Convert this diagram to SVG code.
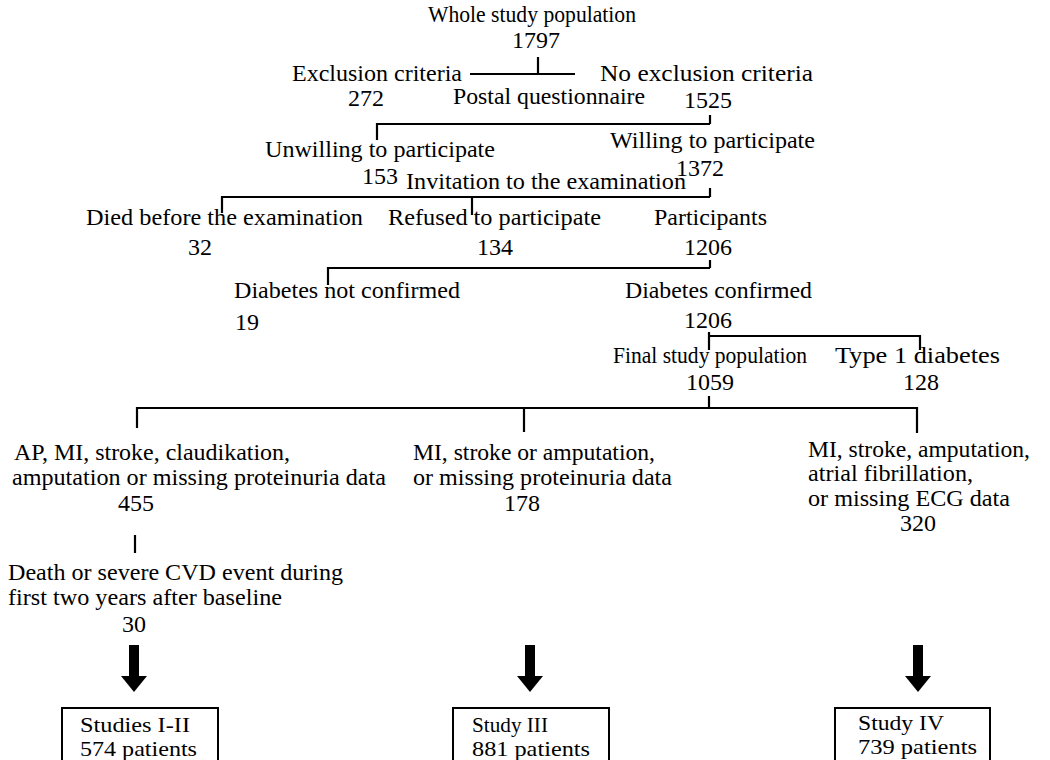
<svg xmlns="http://www.w3.org/2000/svg" width="1050" height="760" viewBox="0 0 1050 760">
<style>
text{font-family:"Liberation Serif","Times New Roman",serif;font-size:24px;fill:#000}
.c{text-anchor:middle}
.b{font-size:21px}
.ln{stroke:#000;stroke-width:2.2;fill:none}
.box{stroke:#000;stroke-width:2;fill:#fff}
.arr{fill:#000}
</style>
<rect width="1050" height="760" fill="#fff"/>
<g id="connectors">
<path class="ln" d="M538 57V74M470 74H575"/>
<path class="ln" d="M377 140V124H710M710 115V124"/>
<path class="ln" d="M222 213V197H710M472 197V215M710 188V197"/>
<path class="ln" d="M328 285V268H710M710 260V268"/>
<path class="ln" d="M709 332V350M709 336H920V350"/>
<path class="ln" d="M709 396V408M137 428V408H917V433M524 408V432"/>
<path class="ln" d="M135 535V553"/>
<path class="arr" d="M129 645H139V676H147L134 692L121 676H129Z"/>
<path class="arr" d="M525 645H535V676H543L530 692L517 676H525Z"/>
<path class="arr" d="M913 645H923V676H931L918 692L905 676H913Z"/>
</g>
<g id="n-whole"><text class="c" x="532" y="22" textLength="208" lengthAdjust="spacingAndGlyphs">Whole study population</text><text class="c" x="536" y="48">1797</text></g>
<g id="n-excl"><text x="292" y="81" textLength="170" lengthAdjust="spacingAndGlyphs">Exclusion criteria</text><text class="c" x="366" y="106">272</text></g>
<g id="n-noexcl"><text x="600" y="81" textLength="213" lengthAdjust="spacingAndGlyphs">No exclusion criteria</text><text class="c" x="708" y="108">1525</text></g>
<g id="n-postal"><text x="453" y="104" textLength="192" lengthAdjust="spacingAndGlyphs">Postal questionnaire</text></g>
<g id="n-unwilling"><text x="265" y="157" textLength="230" lengthAdjust="spacingAndGlyphs">Unwilling to participate</text><text class="c" x="380" y="184">153</text></g>
<g id="n-willing"><text x="610" y="148" textLength="205" lengthAdjust="spacingAndGlyphs">Willing to participate</text><text class="c" x="700" y="176">1372</text></g>
<g id="n-invitation"><text x="406" y="189" textLength="280" lengthAdjust="spacingAndGlyphs">Invitation to the examination</text></g>
<g id="n-died"><text x="86" y="225" textLength="277" lengthAdjust="spacingAndGlyphs">Died before the examination</text><text class="c" x="200" y="255">32</text></g>
<g id="n-refused"><text x="388" y="225" textLength="213" lengthAdjust="spacingAndGlyphs">Refused to participate</text><text class="c" x="495" y="255">134</text></g>
<g id="n-participants"><text x="654" y="225" textLength="113" lengthAdjust="spacingAndGlyphs">Participants</text><text class="c" x="708" y="255">1206</text></g>
<g id="n-notconf"><text x="234" y="298" textLength="226" lengthAdjust="spacingAndGlyphs">Diabetes not confirmed</text><text class="c" x="247" y="330">19</text></g>
<g id="n-conf"><text x="625" y="298" textLength="187" lengthAdjust="spacingAndGlyphs">Diabetes confirmed</text><text class="c" x="708" y="328">1206</text></g>
<g id="n-final"><text x="613" y="363" textLength="194" lengthAdjust="spacingAndGlyphs">Final study population</text><text class="c" x="710" y="390">1059</text></g>
<g id="n-type1"><text x="835" y="363" textLength="165" lengthAdjust="spacingAndGlyphs">Type 1 diabetes</text><text class="c" x="921" y="390">128</text></g>
<g id="n-ex1"><text x="14" y="460" textLength="276" lengthAdjust="spacingAndGlyphs">AP, MI, stroke, claudikation,</text><text x="12" y="485" textLength="374" lengthAdjust="spacingAndGlyphs">amputation or missing proteinuria data</text><text class="c" x="136" y="511">455</text></g>
<g id="n-ex2"><text x="413" y="460" textLength="242" lengthAdjust="spacingAndGlyphs">MI, stroke or amputation,</text><text x="413" y="485" textLength="259" lengthAdjust="spacingAndGlyphs">or missing proteinuria data</text><text class="c" x="522" y="511">178</text></g>
<g id="n-ex3"><text x="808" y="457" textLength="222" lengthAdjust="spacingAndGlyphs">MI, stroke, amputation,</text><text x="808" y="481" textLength="165" lengthAdjust="spacingAndGlyphs">atrial fibrillation,</text><text x="808" y="506" textLength="202" lengthAdjust="spacingAndGlyphs">or missing ECG data</text><text class="c" x="918" y="531">320</text></g>
<g id="n-death"><text x="8" y="580" textLength="335" lengthAdjust="spacingAndGlyphs">Death or severe CVD event during</text><text x="8" y="605" textLength="274" lengthAdjust="spacingAndGlyphs">first two years after baseline</text><text class="c" x="134" y="632">30</text></g>
<g id="n-s12"><rect class="box" x="62" y="708" width="156" height="62"/><text class="b" x="80" y="732" textLength="110" lengthAdjust="spacingAndGlyphs">Studies I-II</text><text class="b" x="80" y="756" textLength="117" lengthAdjust="spacingAndGlyphs">574 patients</text></g>
<g id="n-s3"><rect class="box" x="453" y="708" width="156" height="62"/><text class="b" x="472" y="732" textLength="76" lengthAdjust="spacingAndGlyphs">Study III</text><text class="b" x="472" y="756" textLength="118" lengthAdjust="spacingAndGlyphs">881 patients</text></g>
<g id="n-s4"><rect class="box" x="835" y="708" width="155" height="62"/><text class="b" x="858" y="730" textLength="86" lengthAdjust="spacingAndGlyphs">Study IV</text><text class="b" x="858" y="754" textLength="119" lengthAdjust="spacingAndGlyphs">739 patients</text></g>
</svg>
